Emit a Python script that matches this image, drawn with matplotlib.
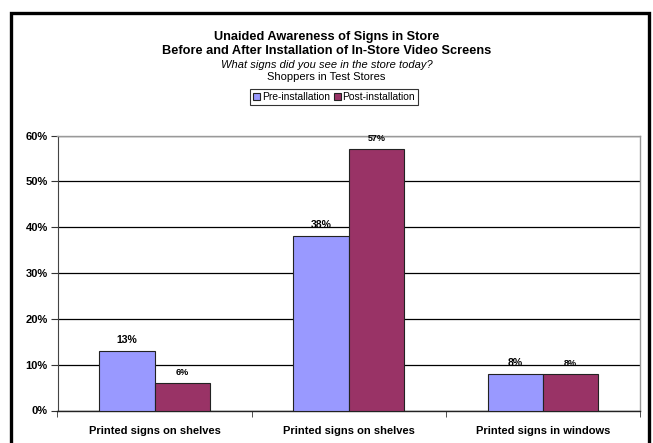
import matplotlib
matplotlib.use("Agg")
import matplotlib.pyplot as plt
import numpy as np
from matplotlib.patches import Rectangle

categories = ["Printed signs on shelves", "Printed signs on shelves", "Printed signs in windows"]
pre_install = [13, 38, 8]
post_install = [6, 57, 8]
series_names = ["Pre-installation", "Post-installation"]
yticks = [0, 10, 20, 30, 40, 50, 60]

plt.rcParams["font.family"] = ["Liberation Sans", "DejaVu Sans"]

W, H = 653, 443
fig = plt.figure(figsize=(W / 100, H / 100), dpi=100)
fig.patch.set_facecolor("white")

# thick outer frame of the chart
fig.patches.append(Rectangle((11 / W, -0.05), (649 - 11) / W, 1.05 - 13 / H,
                             transform=fig.transFigure, fill=False,
                             edgecolor="black", linewidth=2.4))

ax = fig.add_axes([57.5 / W, 1 - 410.5 / H, (640 - 57.5) / W, (410.5 - 135.5) / H])

x = np.arange(len(categories))
bw = 0.285
blue, red = "#9999FF", "#993366"
b1 = ax.bar(x - bw / 2, pre_install, bw, color=blue, edgecolor="#222222", linewidth=0.8,
            label=series_names[0], zorder=3)
b2 = ax.bar(x + bw / 2, post_install, bw, color=red, edgecolor="#222222", linewidth=0.8,
            label=series_names[1], zorder=3)

for rect, v in zip(b1, pre_install):
    ax.text(rect.get_x() + rect.get_width() / 2, v + 1.3, f"{v}%", ha="center", va="bottom",
            fontsize=7.5, fontweight="bold")
for rect, v in zip(b2, post_install):
    ax.text(rect.get_x() + rect.get_width() / 2, v + 1.3, f"{v}%", ha="center", va="bottom",
            fontsize=6.5, fontweight="bold")

ax.set_xlim(-0.5, 2.5)
ax.set_ylim(0, 60)
ax.set_yticks(yticks)
ax.set_yticklabels([f"{t}%" for t in yticks], fontsize=8, fontweight="bold")
ax.yaxis.grid(True, color="black", linewidth=0.9, zorder=0)
ax.set_axisbelow(True)

ax.set_xticks(x)
ax.set_xticklabels(categories, fontsize=8, fontweight="bold")
ax.tick_params(axis="x", length=0, pad=11)
ax.set_xticks([-0.5, 0.5, 1.5, 2.5], minor=True)
ax.tick_params(axis="x", which="minor", length=4, direction="out", color="#333333")
ax.tick_params(axis="y", length=5, direction="out", color="#333333", pad=2)

for s in ["top", "right"]:
    ax.spines[s].set_color("#999999")
    ax.spines[s].set_linewidth(1.0)
ax.spines["left"].set_color("#444444")
ax.spines["bottom"].set_color("#222222")
ax.spines["bottom"].set_linewidth(1.0)

# titles
fig.text(0.5, 1 - 37 / H, "Unaided Awareness of Signs in Store", ha="center", va="center",
         fontsize=9.2, fontweight="bold")
fig.text(0.5, 1 - 51 / H, "Before and After Installation of In-Store Video Screens", ha="center",
         va="center", fontsize=9.2, fontweight="bold")
fig.text(0.5, 1 - 64.5 / H, "What signs did you see in the store today?", ha="center", va="center",
         fontsize=8, style="italic")
fig.text(0.5, 1 - 77.5 / H, "Shoppers in Test Stores", ha="center", va="center", fontsize=8)

leg = fig.legend(handles=[b1, b2], labels=series_names, loc="center",
                 bbox_to_anchor=(334 / W, 1 - 97 / H), ncol=2, fontsize=7.4,
                 frameon=True, fancybox=False, edgecolor="black", handlelength=0.7,
                 handleheight=0.7, handletextpad=0.15, columnspacing=0.4, borderpad=0.25,
                 borderaxespad=0)
leg.get_frame().set_linewidth(0.8)

fig.savefig("out.png", dpi=100, facecolor="white")
